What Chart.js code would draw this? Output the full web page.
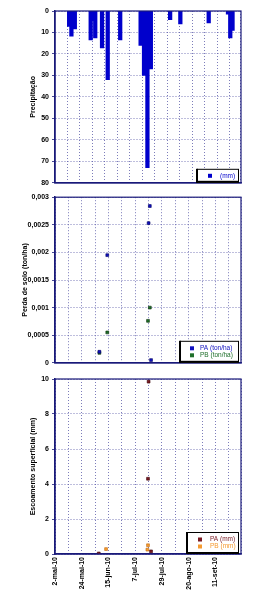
<!DOCTYPE html>
<html lang="pt">
<head>
    <meta charset="UTF-8">
    <title>Precipitação, perda de solo e escoamento</title>
    <script src="https://cdn.jsdelivr.net/npm/chart.js"></script>
    <style>
        body { margin: 0; background: #fff; }
        .wrap { position: relative; width: 267px; height: 600px; }
        canvas { position: absolute; left: 0; }
    </style>
</head>
<body>
<div class="wrap">
    <canvas id="rain" width="267" height="190" style="top:0"></canvas>
    <canvas id="soil" width="267" height="180" style="top:190px"></canvas>
    <canvas id="runoff" width="267" height="230" style="top:370px"></canvas>
</div>
<script>
// days counted from 2-mai-10
const dateLabels = ['2-mai-10', '24-mai-10', '15-jun-10', '7-jul-10', '29-jul-10', '20-ago-10', '11-set-10'];

const rainDays = [7, 9, 12, 26, 28, 30, 36, 41, 52, 70, 73, 76, 79, 96, 105, 130, 147, 149, 151];
const rainMm   = [7.2, 11.7, 8.4, 13.5, 4.5, 12.5, 17.2, 32, 13.5, 16, 30, 73, 27, 4, 6, 5.5, 1.5, 12.5, 9];

const soilPaDays = [78, 77, 43, 36.5, 79];
const soilPa     = [0.00284, 0.00253, 0.00195, 0.0002, 0.00005];
const soilPbDays = [78, 76.5, 43, 36.5];
const soilPb     = [0.001, 0.00076, 0.00055, 0.00018];

const runPaDays = [77, 76.5, 36, 79];
const runPa     = [9.85, 4.3, 0.03, 0.15];
const runPbDays = [42, 76.5, 76];
const runPb     = [0.28, 0.5, 0.25];

const NAVY = '#1a1a7a';
const GRID = '#5a5aa8';
const FONT = 'Liberation Sans, Arial, sans-serif';

function pts(xs, ys) { return xs.map((x, i) => ({ x: x, y: ys[i] })); }

// frame round the plot area + legend box in the lower right corner
const framePlugin = {
    id: 'frame',
    afterDatasetsDraw(chart) {
        const a = chart.chartArea, c = chart.ctx;
        c.save();
        c.strokeStyle = NAVY; c.lineWidth = 1.2;
        c.strokeRect(a.left, a.top, a.right - a.left, a.bottom - a.top);
        c.restore();
    },
    afterDraw(chart, args, opts) {
        if (!opts.box) return;
        const a = chart.chartArea, c = chart.ctx, b = opts.box;
        const x = a.right - b.w - 2, y = a.bottom - b.h;
        c.save();
        c.fillStyle = '#fff';
        c.fillRect(x, y, b.w, b.h);
        c.strokeStyle = '#000'; c.lineWidth = 1;
        c.strokeRect(x + 0.5, y + 0.5, b.w - 1, b.h - 1);
        c.fillStyle = '#000';
        c.fillRect(x - 1, y, 2, b.h);
        c.fillRect(x - 1, y + b.h - 2, b.w + 1, 2);
        c.font = '6.5px ' + FONT;
        c.textBaseline = 'middle';
        chart.data.datasets.forEach((ds, i) => {
            const ly = y + b.h / 2 + (i - (chart.data.datasets.length - 1) / 2) * b.gap;
            c.fillStyle = ds.backgroundColor;
            c.fillRect(x + b.sx - 2, ly - 2, 4, 4);
            c.fillText(ds.label, x + b.tx, ly);
        });
        c.restore();
    }
};

function xAxis(showLabels, h) {
    return {
        type: 'linear', min: 0, max: 153,
        grid: { color: GRID, lineWidth: 0.8, drawTicks: false },
        border: { color: NAVY, width: 1.5, dash: [1, 2] },
        ticks: {
            display: showLabels, stepSize: 11, autoSkip: false,
            maxRotation: 90, minRotation: 90, padding: 3,
            color: '#000', font: { family: FONT, size: 7, weight: 'bold' },
            callback: v => (v % 22 === 0 && v / 22 < dateLabels.length) ? dateLabels[v / 22] : ''
        },
        afterFit: s => { s.height = h; }
    };
}

function yAxis(title, min, max, step, fmt, w, extra) {
    return Object.assign({
        min: min, max: max,
        grid: { color: GRID, lineWidth: 0.8, tickLength: 3, tickColor: NAVY },
        border: { color: NAVY, width: 1.5, dash: [1, 2] },
        ticks: {
            stepSize: step, padding: 3, color: '#000',
            font: { family: FONT, size: 7, weight: 'bold' },
            callback: fmt
        },
        title: { display: true, text: title, color: '#000', padding: 1,
                 font: { family: FONT, size: 7, weight: 'bold' } },
        afterFit: s => { s.width = w; }
    }, extra || {});
}

const comma = v => String(+v.toFixed(4)).replace('.', ',');

Chart.defaults.animation = false;

new Chart(document.getElementById('rain'), {
    type: 'bar',
    data: { datasets: [{
        label: '(mm)', data: pts(rainDays, rainMm),
        backgroundColor: '#0000cc', barThickness: 3.6, grouped: false
    }] },
    options: {
        responsive: false,
        layout: { padding: { left: 28, right: 26, top: 11 } },
        plugins: { legend: { display: false }, tooltip: { enabled: false },
                   frame: { box: { w: 42, h: 14, gap: 0, sx: 13, tx: 23 } } },
        scales: {
            x: xAxis(false, 4),
            y: yAxis('Precipitação', 0, 80, 10, v => v, 27, { reverse: true })
        }
    },
    plugins: [framePlugin]
});

new Chart(document.getElementById('soil'), {
    type: 'scatter',
    data: { datasets: [
        { label: 'PA (ton/ha)', data: pts(soilPaDays, soilPa), backgroundColor: '#1010c0',
          borderColor: '#000060', borderWidth: 0.6, pointStyle: 'rect', pointRadius: 2 },
        { label: 'PB (ton/ha)', data: pts(soilPbDays, soilPb), backgroundColor: '#1f6f2a',
          borderColor: '#0a300a', borderWidth: 0.6, pointStyle: 'rect', pointRadius: 2 }
    ] },
    options: {
        responsive: false,
        layout: { padding: { left: 20, right: 26, top: 6 } },
        plugins: { legend: { display: false }, tooltip: { enabled: false },
                   frame: { box: { w: 59, h: 22, gap: 7, sx: 12, tx: 20 } } },
        scales: {
            x: xAxis(false, 2),
            y: yAxis('Perda de solo (ton/ha)', 0, 0.003, 0.0005, comma, 35)
        }
    },
    plugins: [framePlugin]
});

new Chart(document.getElementById('runoff'), {
    type: 'scatter',
    data: { datasets: [
        { label: 'PA (mm)', data: pts(runPaDays, runPa), backgroundColor: '#7a1a22',
          borderColor: '#3a0008', borderWidth: 0.6, pointStyle: 'rect', pointRadius: 2 },
        { label: 'PB (mm)', data: pts(runPbDays, runPb), backgroundColor: '#f59a30',
          borderColor: '#c06a10', borderWidth: 0.6, pointStyle: 'rect', pointRadius: 2 }
    ] },
    options: {
        responsive: false,
        layout: { padding: { left: 28, right: 26, top: 9 } },
        plugins: { legend: { display: false }, tooltip: { enabled: false },
                   frame: { box: { w: 52, h: 22, gap: 7, sx: 13, tx: 23 } } },
        scales: {
            x: xAxis(true, 46),
            y: yAxis('Escoamento superficial (mm)', 0, 10, 2, v => v, 27)
        }
    },
    plugins: [framePlugin]
});
</script>
</body>
</html>
